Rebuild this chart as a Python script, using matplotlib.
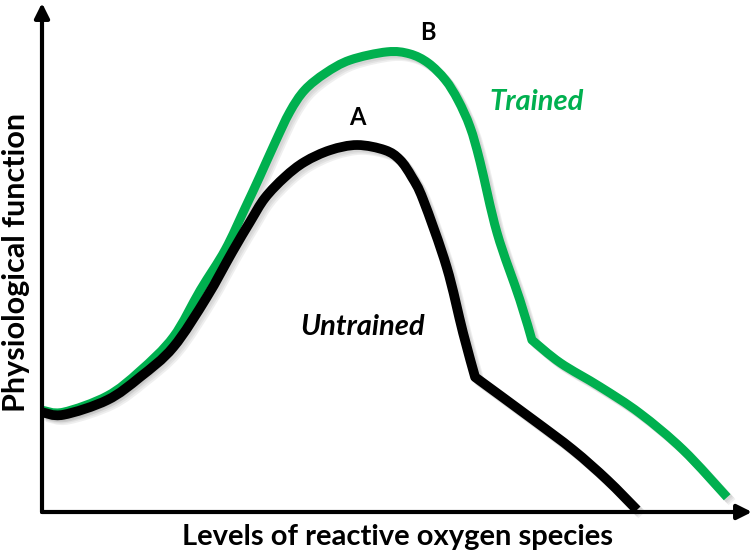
import matplotlib
matplotlib.use("Agg")
import matplotlib.pyplot as plt
import matplotlib.patheffects as pe
from matplotlib.path import Path
from matplotlib.patches import PathPatch
import numpy as np

plt.rcParams['font.family'] = ['Lato', 'DejaVu Sans']

# ROS level (x) vs physiological function (y), both on a 0-100 schematic scale
untrained_x = [0, 3.0, 9.2, 13.8, 18.5, 23.2, 26.8, 29.3, 31.4, 34.2, 37.0, 40.6,
               44.4, 48.3, 50.4, 52.1, 53.7, 57.0, 59.3, 61.0, 69.2, 74.8, 79.6, 83.8]
untrained_y = [19.6, 19.1, 22.0, 26.5, 32.4, 42.2, 51.1, 57.0, 61.7, 65.8, 68.8, 71.1,
               72.1, 71.1, 69.2, 65.8, 61.3, 48.1, 35.2, 26.5, 18.1, 12.2, 6.3, 0.4]
untrained_corner = 19

trained_x = [0, 3.0, 9.2, 13.8, 18.5, 22.3, 25.8, 28.6, 30.7, 32.8, 34.9, 37.0, 39.9,
             43.4, 48.6, 51.8, 54.4, 56.8, 58.6, 60.3, 61.7, 64.1, 67.3, 69.0, 73.0,
             78.6, 84.2, 90.3, 96.5]
trained_y = [20.0, 19.6, 22.8, 27.7, 34.4, 43.6, 51.5, 59.7, 66.0, 72.5, 78.6, 82.9,
             86.2, 88.8, 90.4, 90.0, 88.2, 84.9, 80.9, 75.6, 68.8, 54.8, 41.7, 33.8,
             29.3, 24.6, 19.4, 12.2, 2.9]
trained_corner = 23

green = '#00b04f'


def smooth_path(xs, ys, corner):
    # Catmull-Rom through the points, drawn as cubic Bezier segments,
    # with a sharp bend kept at the corner index
    pts = np.column_stack([xs, ys])
    verts = [pts[0]]
    codes = [Path.MOVETO]
    for part in (pts[:corner + 1], pts[corner:]):
        p = np.vstack([part[0], part, part[-1]])
        for i in range(1, len(p) - 2):
            c1 = p[i] + (p[i + 1] - p[i - 1]) / 6
            c2 = p[i + 1] - (p[i + 2] - p[i]) / 6
            verts += [c1, c2, p[i + 1]]
            codes += [Path.CURVE4] * 3
    return Path(verts, codes)


fig = plt.figure(figsize=(7.56, 5.54), dpi=100)
ax = fig.add_axes([42/756, 42/554, 710/756, 509/554])
ax.set_xlim(0, 100)
ax.set_ylim(0, 100)
ax.axis('off')

shadow = [pe.SimpleLineShadow(offset=(o, -o), shadow_color='gray', alpha=0.12)
          for o in (1.5, 2.5, 3.5)] + [pe.Normal()]

for xs, ys, corner, col, lw in [(trained_x, trained_y, trained_corner, green, 6.5),
                                (untrained_x, untrained_y, untrained_corner, 'black', 7)]:
    patch = PathPatch(smooth_path(xs, ys, corner), facecolor='none', edgecolor=col,
                      lw=lw, joinstyle='round', capstyle='butt', clip_on=False)
    patch.set_path_effects(shadow)
    ax.add_patch(patch)

# axes arrows
arrow = dict(arrowstyle='-|>', lw=3, color='black', mutation_scale=22,
             shrinkA=0, shrinkB=0)
ax.annotate('', xy=(1, 0), xytext=(0, 0), xycoords='axes fraction',
            arrowprops=arrow, annotation_clip=False)
ax.annotate('', xy=(0, 1), xytext=(0, 0), xycoords='axes fraction',
            arrowprops=arrow, annotation_clip=False)

ax.text(44.4, 77.5, 'A', fontsize=17, fontweight='bold', ha='center', va='center')
ax.text(54.4, 94.3, 'B', fontsize=17, fontweight='bold', ha='center', va='center')
ax.text(69.6, 80.5, 'Trained', fontsize=21, fontweight='bold', style='italic',
        color=green, ha='center', va='center')
ax.text(45.1, 36.3, 'Untrained', fontsize=21, fontweight='bold', style='italic',
        color='black', ha='center', va='center')

fig.text(397/756, 1 - 537/554, 'Levels of reactive oxygen species', fontsize=21,
         fontweight='bold', ha='center', va='center')
fig.text(16/756, 1 - 262/554, 'Physiological function', fontsize=22,
         fontweight='bold', ha='center', va='center', rotation=90)

fig.savefig('out.png', dpi=100)
